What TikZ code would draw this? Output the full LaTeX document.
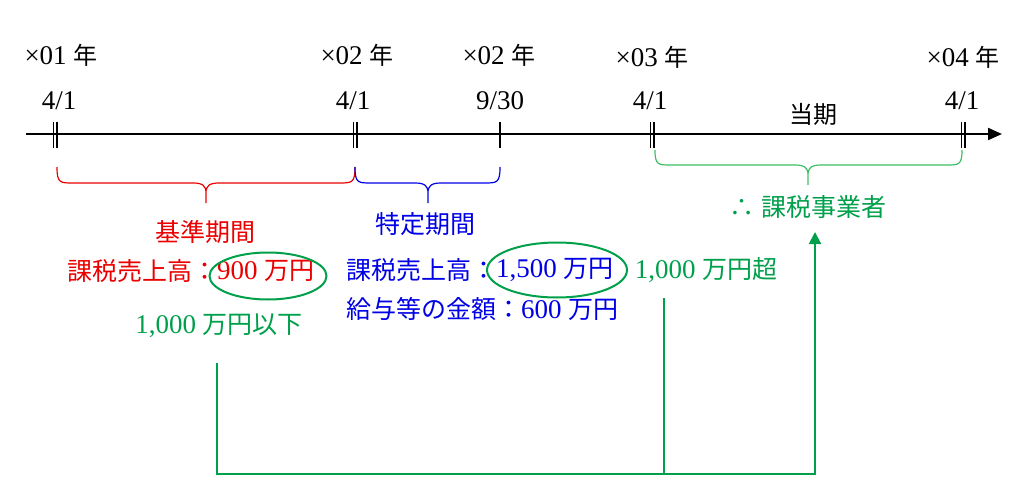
\documentclass[tikz,border=0pt]{standalone}
\usepackage{fontspec}
\setmainfont{Liberation Serif}
\newfontfamily\cjk{Noto Sans CJK JP}
\newcommand\Jt[1]{{\fontsize{25}{30}\selectfont\cjk #1}}
\newcommand\Js[1]{{\fontsize{24}{28}\selectfont\cjk #1}}
\usetikzlibrary{arrows.meta,shapes.geometric}
\definecolor{cred}{RGB}{235,0,0}
\definecolor{cblue}{RGB}{0,0,230}
\definecolor{cgreen}{RGB}{0,160,75}
\definecolor{cbrace}{RGB}{60,190,100}
\newcommand\curlyleft[5]{% x1, xm, ytop, ymid, ytip
  (#1,#3) .. controls (#1,#4) and (#1+3,#4) .. (#1+16,#4) -- (#2-13,#4) .. controls (#2-3,#4) and (#2,#4+3) .. (#2,#4+10) -- (#2,#5)}
\newcommand\curlyright[4]{% xm, x2, ytop, ymid
  (#1,#4+10) .. controls (#1,#4+3) and (#1+3,#4) .. (#1+13,#4) -- (#2-16,#4) .. controls (#2-3,#4) and (#2,#4) .. (#2,#3)}
\begin{document}
\begin{tikzpicture}[x=1pt,y=-1pt,
  lbl/.style={inner sep=0pt, font=\fontsize{27}{30}\selectfont},
  txt/.style={inner sep=0pt, font=\fontsize{27}{30}\selectfont},
  tick/.style={line width=1.2pt},
  conn/.style={cgreen, line width=2pt},
  ring/.style={ellipse, draw=cgreen, line width=2pt, inner sep=0pt},
  curly/.style={line width=1.2pt}]
\useasboundingbox (0,0) rectangle (1024,481);
% axis
\coordinate (ax0) at (26,134);
\coordinate (ax1) at (1002,134);
\draw[line width=2pt,-{Triangle[length=14pt,width=12pt]}] (ax0) -- (ax1);
% ticks
\draw[tick] (53.5,122) -- (53.5,148) (57,122) -- (57,148);
\draw[tick] (353.5,122) -- (353.5,148) (357,122) -- (357,148);
\draw[tick] (500,122) -- (500,148);
\draw[tick] (650.5,122) -- (650.5,148) (654,122) -- (654,148);
\draw[tick] (961.5,122) -- (961.5,148) (965,122) -- (965,148);
% top labels
\node[lbl] (y1) at (61,55) {×01 \Js{年}};
\node[lbl] (y2) at (357,55) {×02 \Js{年}};
\node[lbl] (y3) at (499,55) {×02 \Js{年}};
\node[lbl] (y4) at (652,57) {×03 \Js{年}};
\node[lbl] (y5) at (963,57) {×04 \Js{年}};
\node[lbl] (d1) at (59,101) {4/1};
\node[lbl] (d2) at (353,101) {4/1};
\node[lbl] (d3) at (500,101) {9/30};
\node[lbl] (d4) at (650,101) {4/1};
\node[lbl] (d5) at (962,101) {4/1};
\node[lbl] (tk) at (813,114) {\Js{当期}};
% braces
\draw[curly,cred] \curlyleft{57}{206}{167}{183}{203} \curlyright{206}{355}{167}{183};
\draw[curly,cblue] \curlyleft{355}{428}{167}{183}{203} \curlyright{428}{500}{167}{183};
\draw[curly,cbrace] \curlyleft{655}{808}{150}{165}{185} \curlyright{808}{962}{150}{165};
% texts
\node[txt,cred] (kj) at (205,232) {\Jt{基準期間}};
\node[txt,cblue] (tt) at (425,224) {\Jt{特定期間}};
\node[txt,cred,anchor=west] (r1) at (67,271) {\Jt{課税売上高：}};
\node[txt,cred,anchor=west] (r2) at (217,271) {900 \Jt{万円}};
\node[ring,minimum width=117pt,minimum height=47pt] (e1) at (268,276) {};
\node[txt,cblue,anchor=west] (b1) at (346,270) {\Jt{課税売上高：}};
\node[txt,cblue,anchor=west] (b2) at (496,270) {1,500 \Jt{万円}};
\node[ring,minimum width=140pt,minimum height=55pt] (e2) at (557,270) {};
\node[txt,cblue,anchor=west] (b3) at (346,309) {\Jt{給与等の金額：}600 \Jt{万円}};
\node[txt,cgreen] (g1) at (219,326) {1,000 \Jt{万円以下}};
\node[txt,cgreen] (g2) at (706,270) {1,000 \Jt{万円超}};
\node[txt,cgreen] (g3) at (808,207) {\Jt{∴}\ \Jt{課税事業者}};
% connectors
\coordinate (p1) at (217,363);
\coordinate (p2) at (664,298);
\coordinate (p3) at (815,232);
\coordinate (q1) at (664,474);
\draw[conn,-{Triangle[length=12pt,width=12pt]}] (p1) |- (q1) -| (p3);
\draw[conn] (p2) -- (q1);
\end{tikzpicture}
\end{document}
